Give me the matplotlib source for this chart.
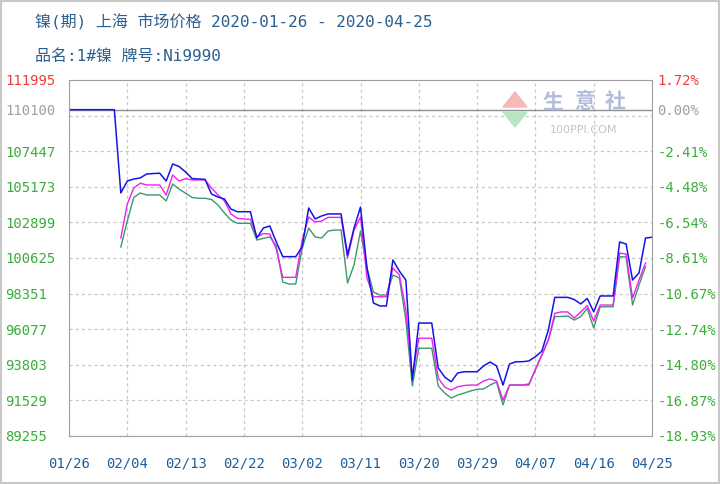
import numpy as np
import pandas as pd
import matplotlib
matplotlib.use('Agg')
import matplotlib.pyplot as plt
from matplotlib.patches import Polygon, Rectangle

plt.rcParams['font.family'] = ['DejaVu Sans Mono', 'Noto Sans CJK SC']

# data (daily, 2020-01-26 .. 2020-04-25)
dates = pd.date_range('2020-01-26', '2020-04-25')
base_price = 110100

blue_vals = [110100, 110100, 110100, 110100, 110100, 110100, 110100, 110100,
             104780, 105540, 105670, 105740, 105990, 106020, 106040, 105540, 106630, 106470,
             106120, 105700, 105670, 105650, 104710, 104520, 104390, 103750, 103580, 103580,
             103580, 101900, 102540, 102670, 101650, 100710, 100710, 100710, 101330, 103820,
             103120, 103310, 103440, 103440, 103440, 100820, 102540, 103880, 99990, 97750,
             97560, 97560, 100500, 99790, 99220, 92830, 96470, 96470, 96470, 93600, 93020,
             92720, 93280, 93360, 93360, 93360, 93730, 93980, 93730, 92510, 93850, 94000,
             94000, 94050, 94320, 94680, 96030, 98110, 98110, 98110, 97970, 97690, 98040,
             97190, 98200, 98200, 98200, 101650, 101520, 99220, 99670, 101900, 101950]

# magenta and green start on 02/03 and stop on 04/24
sub_start = '2020-02-03'
magenta_vals = [101900, 104070, 105100, 105400, 105290, 105290, 105290, 104650, 105930,
                105540, 105700, 105610, 105610, 105610, 105100, 104650, 104270, 103440,
                103150, 103120, 103100, 101970, 102180, 102160, 101200, 99390, 99390, 99390,
                101770, 103240, 102920, 102990, 103220, 103220, 103220, 100620, 102410,
                103240, 99350, 98150, 98150, 98150, 99990, 99540, 97300, 93040, 95500, 95500,
                95500, 92960, 92380, 92190, 92400, 92480, 92510, 92510, 92770, 92900, 92770,
                91550, 92510, 92510, 92510, 92580, 93470, 94430, 95390, 97090, 97180, 97180,
                96790, 97180, 97590, 96600, 97620, 97620, 97620, 100940, 100880, 98070,
                99220, 100310]
green_vals = [101330, 102990, 104490, 104780, 104650, 104650, 104650, 104270, 105350,
              105030, 104760, 104490, 104440, 104440, 104360, 104010, 103500, 103050,
              102840, 102840, 102840, 101770, 101880, 101970, 101390, 99090, 98960, 98960,
              101260, 102540, 101970, 101900, 102350, 102410, 102410, 99030, 100180,
              102350, 99990, 98450, 98260, 98260, 99540, 99350, 96660, 92450, 94860, 94860,
              94860, 92450, 92000, 91680, 91870, 92000, 92130, 92240, 92260, 92510, 92700,
              91240, 92510, 92510, 92510, 92510, 93530, 94430, 95390, 96880, 96890, 96920,
              96660, 96880, 97410, 96150, 97500, 97510, 97510, 100710, 100690, 97620,
              98900, 100070]

yticks = [89255, 91529, 93803, 96077, 98351, 100625, 102899, 105173, 107447, 109721, 111995]
xtick_labels = ['01/26', '02/04', '02/13', '02/22', '03/02', '03/11',
                '03/20', '03/29', '04/07', '04/16', '04/25']

blue = pd.Series(blue_vals, index=dates)
sub_idx = pd.date_range(sub_start, periods=len(magenta_vals))
magenta = pd.Series(magenta_vals, index=sub_idx)
green = pd.Series(green_vals, index=sub_idx)

GREEN_TXT = '#3aae3a'
RED_TXT = '#f03c3c'
GRAY_TXT = '#a0a0a0'
BLUE_TXT = '#1f5f98'

fig = plt.figure(figsize=(7.2, 4.84), dpi=100)
ax = fig.add_axes([69/720, 1 - 436/484, (652-69)/720, (436-80)/484])

ax.plot(green.index, green.values, color='#3a9a6a', lw=1.0)
ax.plot(magenta.index, magenta.values, color='#f020f0', lw=1.0)
ax.plot(blue.index, blue.values, color='#1414e6', lw=1.1)

ax.set_xlim(dates[0], dates[-1])
ax.set_ylim(yticks[0], yticks[-1])

xt = pd.date_range('2020-01-26', periods=len(xtick_labels), freq='9D')
ax.set_xticks(xt)
ax.set_xticklabels(xtick_labels, color=BLUE_TXT, fontsize=10)

# left ticks: gridlines every 2274, plus the 110100 reference
left_ticks = yticks[:9] + [yticks[10], base_price]
ax.set_yticks(left_ticks)
ax.set_yticklabels([str(v) for v in left_ticks], fontsize=10, ha='left')
for lab, v in zip(ax.get_yticklabels(), left_ticks):
    lab.set_color(RED_TXT if v == yticks[-1] else GRAY_TXT if v == base_price else GREEN_TXT)
ax.tick_params(axis='y', length=0, pad=46)
ax.tick_params(axis='x', length=0, pad=15)

for v in yticks:
    ax.axhline(v, color='#c8c8c8', lw=0.9, ls=(0, (2.5, 2.5)), zorder=0)
for d in xt:
    ax.axvline(d, color='#c8c8c8', lw=0.9, ls=(0, (2.5, 2.5)), zorder=0)
ax.axhline(base_price, color='#909090', lw=1.0, zorder=1)

for s in ax.spines.values():
    s.set_color('#a0a0a0')

ax2 = ax.twinx()
ax2.set_ylim(ax.get_ylim())
right_ticks = yticks[:9] + [yticks[10], base_price]
ax2.set_yticks(right_ticks)
ax2.set_yticklabels(['%.2f%%' % ((v / base_price - 1) * 100) for v in right_ticks], fontsize=10)
for lab, v in zip(ax2.get_yticklabels(), right_ticks):
    lab.set_color(RED_TXT if v == yticks[-1] else GRAY_TXT if v == base_price else GREEN_TXT)
ax2.tick_params(axis='y', length=0, pad=4)
for s in ax2.spines.values():
    s.set_visible(False)

# watermark logo
def fx(px): return px / 720
def fy(py): return 1 - py / 484
fig.patches.append(Polygon([(fx(503), fy(107)), (fx(527), fy(107)), (fx(515), fy(92))],
                           closed=True, transform=fig.transFigure, color='#f6b8b8', zorder=5))
fig.patches.append(Polygon([(fx(503), fy(112)), (fx(527), fy(112)), (fx(515), fy(127))],
                           closed=True, transform=fig.transFigure, color='#b8e4c4', zorder=5))
for ch, px in zip(['生', '意', '社'], [553, 585, 615]):
    fig.text(fx(px), fy(102), ch, fontsize=15, color='#b4bcdc', ha='center', va='center',
             family=['Noto Sans CJK SC'], fontweight='bold')
fig.text(fx(584), fy(130), '100PPI.COM', fontsize=8, color='#c4c4c4', ha='center',
         va='center', family=['DejaVu Sans'])

# titles
fig.text(fx(35), fy(22), '镍(期) 上海 市场价格 2020-01-26 - 2020-04-25', fontsize=11.5,
         color='#2b5f8e', va='center')
fig.text(fx(35), fy(56), '品名:1#镍 牌号:Ni9990', fontsize=11.5, color='#2b5f8e', va='center')

fig.patches.append(Rectangle((0.002, 0.002), 0.996, 0.996, transform=fig.transFigure,
                             fill=False, edgecolor='#c8c8c8', lw=1.5))

fig.savefig('out.png', dpi=100)
